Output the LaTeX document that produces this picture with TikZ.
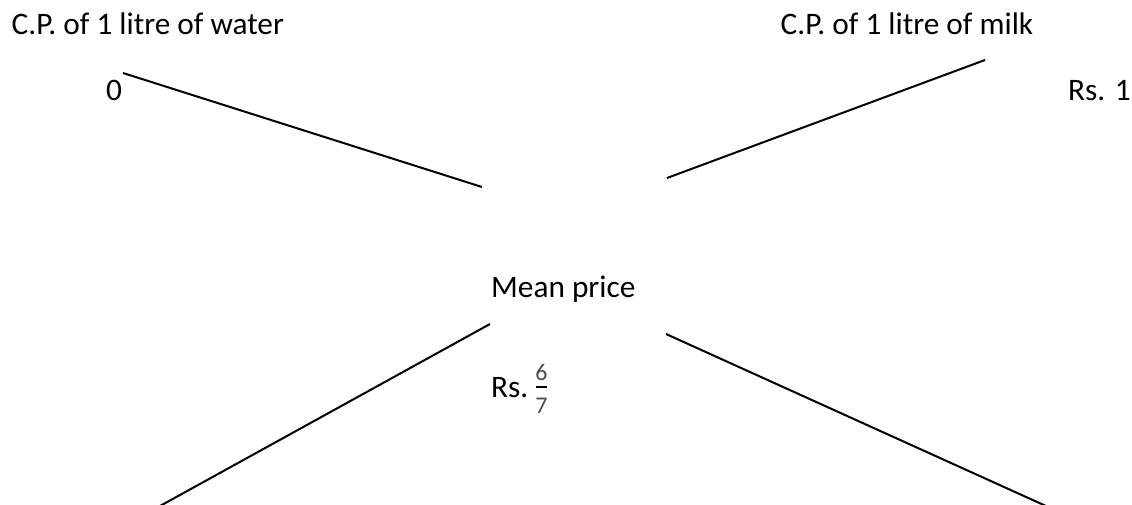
\documentclass[tikz,border=0pt]{standalone}
\usepackage{fontspec}
\setmainfont{Carlito}
\newcommand{\myfrac}[2]{{\fontsize{24}{24}\selectfont
  \rlap{\makebox[12pt]{\color{black!70}\raisebox{-16pt}{#2}}}%
  \rlap{\makebox[12pt]{\color{black!70}\raisebox{17pt}{#1}}}%
  \makebox[12pt]{\rule[9.25pt]{11pt}{1.5pt}}}}
\begin{document}
\begin{tikzpicture}[x=1pt,y=-1pt,
  lbl/.style={anchor=base west,inner sep=0pt,font=\fontsize{31.3}{37}\selectfont},
  ln/.style={line width=2pt,black}]
\useasboundingbox (0,0) rectangle (1132,505);
\clip (0,0) rectangle (1132,505);
\node[lbl] (water) at (11.5,35) {C.P. of 1 litre of water};
\node[lbl] (zero) at (106,101) {0};
\node[lbl] (milk) at (780.5,35) {C.P. of 1 litre of milk};
\node[lbl] (rsone) at (1068,101) {Rs. 1};
\node[lbl] (mean) at (491,297) {Mean price};
\node[lbl] (meanval) at (491,397) {Rs.\hspace{7pt}\myfrac{6}{7}};
\coordinate (a1) at (123,73);
\coordinate (a2) at (482,187);
\coordinate (b1) at (667,178);
\coordinate (b2) at (985,60);
\coordinate (c1) at (490,324);
\coordinate (c2) at (160,506);
\coordinate (d1) at (666,334);
\coordinate (d2) at (1046,506);
\draw[ln] (a1) -- (a2);
\draw[ln] (b1) -- (b2);
\draw[ln] (c1) -- (c2);
\draw[ln] (d1) -- (d2);
\end{tikzpicture}
\end{document}
